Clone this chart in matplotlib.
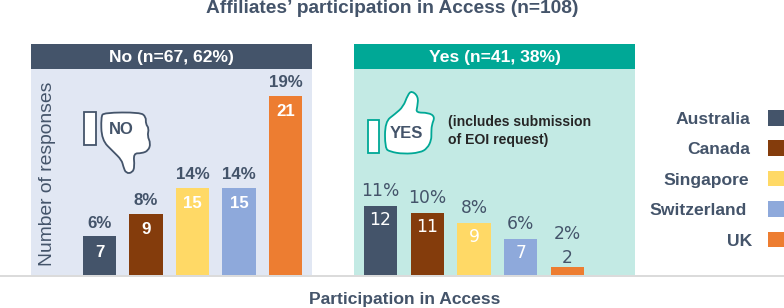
import matplotlib
matplotlib.use('Agg')
import matplotlib.pyplot as plt
from matplotlib.patches import Polygon, Rectangle, PathPatch
from matplotlib.path import Path

plt.rcParams['font.family'] = 'Liberation Sans'

countries = ['Australia', 'Canada', 'Singapore', 'Switzerland', 'UK']
colors = ['#44546A', '#843C0C', '#FFD966', '#8EA9DB', '#ED7D31']

# printed numbers
no_counts = [7, 9, 15, 15, 21]
no_pct = ['6%', '8%', '14%', '14%', '19%']
yes_counts = [12, 11, 9, 7, 2]
yes_pct = ['11%', '10%', '8%', '6%', '2%']

# bar heights as drawn in the picture (the drawn bars are not all to scale)
no_heights = [6.8, 10.7, 15.3, 15.3, 31.4]
yes_heights = [12.1, 10.9, 9.1, 6.3, 1.4]

dark = '#44546A'
W, H = 784, 308


def panel_axes(x0, x1, xlim, bg):
    ax = fig.add_axes([x0 / W, (H - 275) / H, (x1 - x0) / W, 206 / H], facecolor=bg)
    ax.set_xlim(*xlim)
    ax.set_ylim(0, 206 / 5.7)
    ax.set_xticks([])
    ax.set_yticks([])
    for s in ax.spines.values():
        s.set_visible(False)
    return ax


def header(ax, text, color):
    ax.add_patch(Rectangle((0, 1), 1, 25 / 206, transform=ax.transAxes, color=color,
                           clip_on=False, lw=0))
    ax.text(0.5, 1 + 12 / 206, text, transform=ax.transAxes, ha='center', va='center',
            color='white', fontsize=12.6, fontweight='bold')


def rounded(points):
    # closed outline, corners smoothed with quadratic curves through the midpoints
    n = len(points)
    mid = [((points[i][0] + points[(i + 1) % n][0]) / 2, (points[i][1] + points[(i + 1) % n][1]) / 2)
           for i in range(n)]
    verts = [mid[-1]]
    codes = [Path.MOVETO]
    for i in range(n):
        verts += [points[i], mid[i]]
        codes += [Path.CURVE3, Path.CURVE3]
    return Path(verts, codes)


fig = plt.figure(figsize=(W / 100, H / 100), dpi=100, facecolor='white')

# No panel
ax1 = panel_axes(31, 312, (-1.473, 4.57), '#E1E7F3')
header(ax1, 'No (n=67, 62%)', dark)
ax1.bar(range(5), no_heights, width=0.71, color=colors)
for i in range(5):
    ax1.annotate(no_pct[i], (i, no_heights[i]), xytext=(0, 9.5), textcoords='offset points',
                 ha='center', va='center', color=dark, fontsize=12.2, fontweight='bold')
    ax1.annotate(str(no_counts[i]), (i, no_heights[i]), xytext=(0, -11.5), textcoords='offset points',
                 ha='center', va='center', color='white', fontsize=12.2, fontweight='bold')

# Yes panel
ax2 = panel_axes(354, 635, (-0.567, 5.44), '#C3EAE4')
header(ax2, 'Yes (n=41, 38%)', '#00A896')
ax2.bar(range(5), yes_heights, width=0.71, color=colors)
for i in range(5):
    if yes_counts[i] > 2:
        ax2.annotate(yes_pct[i], (i, yes_heights[i]), xytext=(0, 11), textcoords='offset points',
                     ha='center', va='center', color=dark, fontsize=12.3, family='DejaVu Sans')
        ax2.annotate(str(yes_counts[i]), (i, yes_heights[i]), xytext=(0, -10), textcoords='offset points',
                     ha='center', va='center', color='white', fontsize=12.3, family='DejaVu Sans')
    else:
        # bar too short, both labels sit above it
        ax2.annotate(yes_pct[i], (i, yes_heights[i]), xytext=(0, 24), textcoords='offset points',
                     ha='center', va='center', color=dark, fontsize=12.3, family='DejaVu Sans')
        ax2.annotate(str(yes_counts[i]), (i, yes_heights[i]), xytext=(0, 6.5), textcoords='offset points',
                     ha='center', va='center', color=dark, fontsize=12.3, family='DejaVu Sans')

# overlay in pixels for the icons, legend and loose text
ov = fig.add_axes([0, 0, 1, 1], facecolor='none')
ov.set_xlim(0, W)
ov.set_ylim(H, 0)
ov.axis('off')

ov.plot([0, W], [275.5, 275.5], color='#D4D4D4', lw=1.2)

ov.text(392, 8.5, 'Affiliates\u2019 participation in Access (n=108)', ha='center', va='center',
        color=dark, fontsize=13.8, fontweight='bold')
ov.text(405, 299.5, 'Participation in Access', ha='center', va='center',
        color=dark, fontsize=12.6, fontweight='bold')
ov.text(48, 174, 'Number of responses', rotation=90, ha='center', va='center',
        color=dark, fontsize=13.9)

# thumbs down
no_hand = [(303, 350), (312, 338), (420, 337), (438, 350), (437, 372), (447, 385), (442, 408),
           (452, 430), (445, 452), (425, 460), (400, 460), (404, 500), (397, 518), (378, 520),
           (370, 500), (365, 480), (340, 455), (305, 420)]
ov.add_patch(PathPatch(rounded([(x / 3, y / 3) for x, y in no_hand]), fc='white', ec=dark, lw=1.3))
ov.add_patch(Rectangle((84, 112), 12, 33, fc='white', ec=dark, lw=1.3))
ov.text(121, 129.5, 'NO', ha='center', va='center', color=dark, fontsize=12, fontweight='bold')

# thumbs up
yes_hand = [(135, 365), (165, 342), (190, 320), (203, 285), (215, 272), (235, 290), (232, 320),
            (228, 338), (265, 338), (285, 350), (275, 375), (274, 400), (274, 420), (262, 445),
            (240, 458), (190, 462), (150, 455), (135, 445)]
ov.add_patch(PathPatch(rounded([(340 + x / 3, y / 3) for x, y in yes_hand]), fc='white', ec='#00A896', lw=1.3))
ov.add_patch(Rectangle((368, 120), 11, 33, fc='white', ec='#00A896', lw=1.3))
ov.text(406, 133.5, 'YES', ha='center', va='center', color=dark, fontsize=12, fontweight='bold')

ov.text(448, 122, '(includes submission', ha='left', va='center', color='#262626', fontsize=10.1, fontweight='bold')
ov.text(448, 140, 'of EOI request)', ha='left', va='center', color='#262626', fontsize=10.1, fontweight='bold')

# legend
legend_right = [750, 750, 749, 747, 752]
for i, name in enumerate(countries):
    yc = 118 + i * 30.4
    ov.text(legend_right[i], yc + 1.5, name, ha='right', va='center', color=dark, fontsize=12.6, fontweight='bold')
    ov.add_patch(Rectangle((768, yc - 8), 16, 15.5, color=colors[i], lw=0))

fig.savefig('out.png', dpi=100)
